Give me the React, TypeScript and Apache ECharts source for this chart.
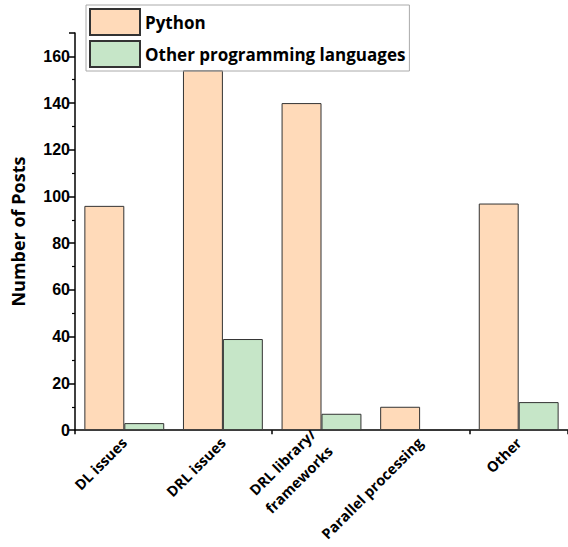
import React, { useEffect, useRef } from "react";
import * as echarts from "echarts";

const categories = ["DL issues", "DRL issues", "DRL library/\nframeworks", "Parallel processing", "Other"];
const pythonValues = [96, 154, 140, 10, 97];
const otherValues = [3, 39, 7, 0, 12];
const yTicks = [0, 20, 40, 60, 80, 100, 120, 140, 160];

export default function App() {
  const ref = useRef<HTMLDivElement>(null);
  useEffect(() => {
    const chart = echarts.init(ref.current!, null, { renderer: "svg" });
    const catFont = "'Open Sans', sans-serif";
    chart.setOption({
      animation: false,
      backgroundColor: "#ffffff",
      legend: {
        left: 86,
        top: 5,
        orient: "vertical",
        itemWidth: 50,
        itemHeight: 26,
        itemGap: 4,
        padding: [3, 4, 3, 3],
        borderColor: "#aaaaaa",
        borderWidth: 1,
        icon: "rect",
        textStyle: { fontFamily: catFont, fontWeight: "bold", fontSize: 17, color: "#000" },
        data: ["Python", "Other programming languages"],
      },
      grid: { left: 75, right: 0, top: 33, bottom: 113 },
      xAxis: [
        {
          type: "category",
          data: categories,
          axisLine: { lineStyle: { color: "#000", width: 1.5 } },
          axisTick: { alignWithLabel: true, length: 7, lineStyle: { color: "#000", width: 1.5 } },
          axisLabel: {
            rotate: 45,
            interval: 0,
            margin: 10,
            fontFamily: catFont,
            fontWeight: "bold",
            fontSize: 14.5,
            color: "#000",
            lineHeight: 24,
          },
        },
        {
          type: "category",
          data: categories,
          position: "bottom",
          axisLine: { show: false },
          axisTick: { show: true, length: 4, lineStyle: { color: "#000", width: 1.5 } },
          axisLabel: { show: false },
        },
      ],
      yAxis: {
        type: "value",
        min: 0,
        max: 170,
        interval: 20,
        name: "Number of Posts",
        nameLocation: "middle",
        nameGap: 48,
        nameTextStyle: { fontFamily: catFont, fontWeight: "bold", fontSize: 18, color: "#000" },
        axisLine: { show: true, lineStyle: { color: "#000", width: 1.5 } },
        axisTick: { show: true, length: 6, lineStyle: { color: "#000", width: 1.5 } },
        minorTick: { show: true, splitNumber: 2, length: 3, lineStyle: { color: "#000", width: 1.2 } },
        splitLine: { show: false },
        axisLabel: {
          fontFamily: "'Liberation Sans', Arial, sans-serif",
          fontWeight: "bold",
          fontSize: 16,
          color: "#000",
          margin: 5,
          formatter: (v: number) => (yTicks.includes(v) ? String(v) : ""),
        },
      },
      series: [
        {
          name: "Python",
          type: "bar",
          data: pythonValues,
          barGap: "0%",
          barCategoryGap: "19%",
          itemStyle: { color: "#FFDAB9", borderColor: "#333333", borderWidth: 1 },
        },
        {
          name: "Other programming languages",
          type: "bar",
          data: otherValues,
          itemStyle: { color: "#C6E6C8", borderColor: "#333333", borderWidth: 1 },
        },
      ],
    });
    return () => chart.dispose();
  }, []);
  return <div ref={ref} style={{ position: "fixed", left: 0, top: 0, width: 568, height: 547 }} />;
}
